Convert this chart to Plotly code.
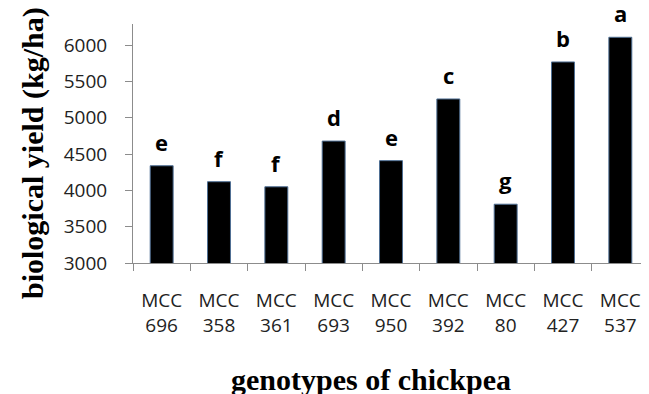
import plotly.graph_objects as go

genotypes = ["MCC<br>696", "MCC<br>358", "MCC<br>361", "MCC<br>693", "MCC<br>950",
             "MCC<br>392", "MCC<br>80", "MCC<br>427", "MCC<br>537"]
yield_kg_ha = [4340, 4120, 4050, 4680, 4410, 5260, 3810, 5770, 6110]
groups = ["e", "f", "f", "d", "e", "c", "g", "b", "a"]
y_ticks = [3000, 3500, 4000, 4500, 5000, 5500, 6000]

# page has an 8px body margin: figure drawn at (8, 8)
OFF = 8
W, H = 649 - OFF, 394 - OFF
ml, mr, mt, mb = 133 - OFF, 0, 24 - OFF, 131
pw = W - ml - mr
ph = H - mt - mb
ybot = H - mb  # figure px of plot bottom

fig = go.Figure()
fig.add_trace(go.Bar(
    x=genotypes, y=yield_kg_ha, width=0.4,
    marker=dict(color="black", line=dict(color="#4f6f94", width=1)),
    hoverinfo="skip",
))

for g, v, lab in zip(genotypes, yield_kg_ha, groups):
    fig.add_annotation(x=g, y=v, text=lab, showarrow=False, yanchor="bottom",
                       yshift=7, font=dict(family="Open Sans", size=22, color="black", weight="bold"))

fig.add_annotation(xref="paper", yref="paper", x=(371 - 133) / pw, y=-((379 - OFF) - ybot) / ph,
                   text="<b>genotypes of chickpea</b>", showarrow=False,
                   xanchor="center", yanchor="middle",
                   font=dict(family="Liberation Serif", size=30, color="black"))
fig.add_annotation(xref="paper", yref="paper", x=(33 - 133) / pw, y=(ybot - (153 - OFF)) / ph,
                   text="<b>biological yield (kg/ha)</b>", showarrow=False, textangle=-90,
                   xanchor="center", yanchor="middle",
                   font=dict(family="Liberation Serif", size=30, color="black"))

axis_font = dict(family="Open Sans", size=19, color="#222222")
fig.update_layout(
    width=W, height=H,
    margin=dict(l=ml, r=mr, t=mt, b=mb, pad=0),
    plot_bgcolor="white", paper_bgcolor="white",
    showlegend=False, bargap=0.6,
    xaxis=dict(showline=True, linecolor="#8c8c8c", linewidth=1, ticks="outside",
               tickson="boundaries", ticklen=7, tickcolor="#8c8c8c",
               tickfont=axis_font, ticklabelstandoff=20, showgrid=False,
               range=[-0.5, 8.5], fixedrange=True),
    yaxis=dict(showline=True, linecolor="#8c8c8c", linewidth=1, ticks="outside",
               ticklen=7, tickcolor="#8c8c8c", tickvals=y_ticks,
               tickfont=axis_font, ticklabelstandoff=14, showgrid=False, zeroline=False,
               range=[3000, 6293], fixedrange=True),
)

fig.write_html("out.html")
